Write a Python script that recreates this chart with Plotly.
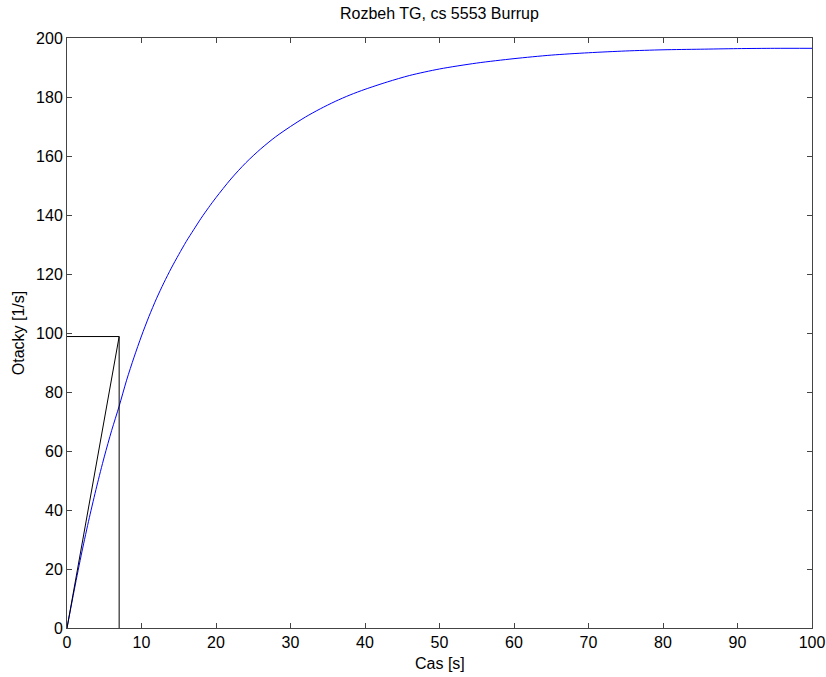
import plotly.graph_objects as go

# Blue curve: speed vs time
time_s = [0, 1, 2, 3, 4, 5, 6, 7, 8, 9, 10, 11, 12, 13, 14, 15, 16, 17, 18, 19,
          20, 22, 24, 26, 28, 30, 32, 34, 36, 38, 40, 43, 46, 50, 55, 60, 65, 70,
          75, 80, 85, 90, 95, 100]
speed = [0, 13.2, 25.8, 37.4, 48.1, 58.0, 67.0, 75.2, 84.0, 91.8, 99.0, 105.6,
         111.6, 117.0, 122.0, 126.6, 131.0, 135.0, 138.9, 142.5,
         145.9, 152.2, 157.7, 162.4, 166.5, 170.0, 173.2, 176.0, 178.5, 180.7,
         182.6, 185.1, 187.3, 189.5, 191.5, 193.0, 194.2, 195.0,
         195.6, 196.0, 196.2, 196.4, 196.5, 196.5]

# Black tangent construction
tangent_t = [0, 7]
tangent_speed = [0, 98.8]
box_t = [0, 7, 7]
box_speed = [98.8, 98.8, 0]

x_ticks = [0, 10, 20, 30, 40, 50, 60, 70, 80, 90, 100]
y_ticks = [0, 20, 40, 60, 80, 100, 120, 140, 160, 180, 200]

FONT = "Liberation Sans, Arial, sans-serif"

fig = go.Figure()
fig.add_trace(go.Scatter(x=time_s, y=speed, mode="lines",
                         line=dict(color="#0000ff", width=1, shape="spline", smoothing=0.8),
                         showlegend=False, hoverinfo="skip"))
fig.add_trace(go.Scatter(x=tangent_t, y=tangent_speed, mode="lines",
                         line=dict(color="black", width=1),
                         showlegend=False, hoverinfo="skip"))
fig.add_trace(go.Scatter(x=box_t, y=box_speed, mode="lines",
                         line=dict(color="black", width=1),
                         showlegend=False, hoverinfo="skip"))

axis_common = dict(showgrid=False, zeroline=False, showline=True,
                   linecolor="#444444", linewidth=1, mirror="ticks",
                   ticks="inside", ticklen=5, tickcolor="#444444",
                   automargin=False,
                   tickfont=dict(family=FONT, size=16, color="black"))

fig.update_layout(
    width=826, height=677,
    margin=dict(l=67, r=14, t=38, b=49),
    paper_bgcolor="white", plot_bgcolor="white",
    font=dict(family=FONT, size=16, color="black"),
    title=dict(text="Rozbeh TG, cs 5553 Burrup", x=0.532, xanchor="center",
               y=1 - 13 / 677, yref="container", yanchor="middle",
               font=dict(family=FONT, size=16, color="black")),
    xaxis=dict(range=[0, 100], tickvals=x_ticks, **axis_common),
    yaxis=dict(range=[0, 200], tickvals=y_ticks,
               title=dict(text="Otacky [1/s]", standoff=7,
                          font=dict(family=FONT, size=16)),
               **axis_common),
    annotations=[dict(text="Cas [s]", x=0.5, xref="paper", y=-35 / 590,
                      yref="paper", xanchor="center", yanchor="middle",
                      showarrow=False, font=dict(family=FONT, size=16, color="black"))],
)

fig.write_html("out.html",
               config={"displayModeBar": False},
               post_script="document.body.style.margin='0px';"
                           "document.body.style.overflow='hidden';")
